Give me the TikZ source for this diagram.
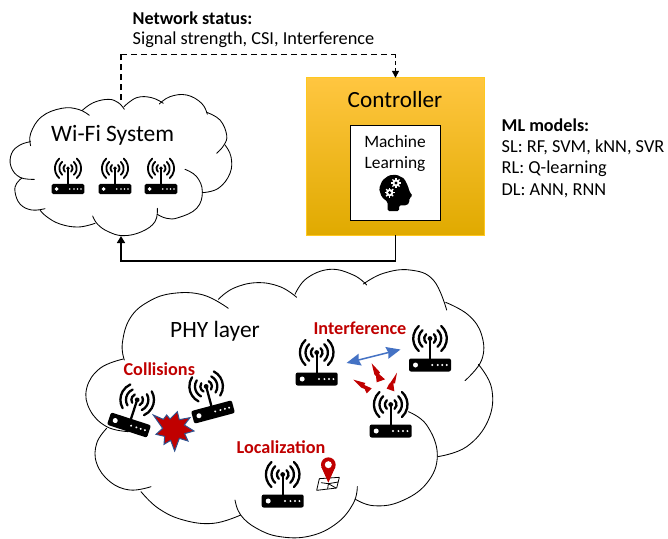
\documentclass[tikz,border=0pt]{standalone}
\usepackage{fontspec}
\setmainfont{Carlito}
\usetikzlibrary{arrows.meta}
\definecolor{dred}{HTML}{C00000}
\definecolor{dblue}{HTML}{4472C4}
\definecolor{sblue}{HTML}{2F528F}
\definecolor{ctop}{HTML}{FFC640}
\definecolor{cmid}{HTML}{FFC000}
\definecolor{cbot}{HTML}{E0AA00}
\definecolor{cedge}{HTML}{FFC81E}
\tikzset{
  lobe/.style={draw=black,line width=0.85pt,line cap=round},
  zoomed/.style={x=0.33333pt,y=-0.33333pt},
  rlabel/.style={text=dred,font=\fontsize{18.2}{20}\selectfont\bfseries,inner sep=0pt},
  infotext/.style={anchor=west,inner sep=0pt,font=\fontsize{18.3}{20}\selectfont},
  infohead/.style={anchor=west,inner sep=0pt,font=\fontsize{18.1}{20}\selectfont\bfseries},
  pics/router/.style={code={
    \begin{scope}[scale=#1,line width=#1*2.3pt,line cap=round]
      \fill[rounded corners=#1*2pt] (-21,-6.5) rectangle (21,6.5);
      \fill[white] (-14.5,0) circle (2.5);
      \foreach \dx in {2.3,7.7,12.3,16.7} {\fill[white] (\dx,0) circle (1.1);}
      \draw (0,-6.5) -- (0,-26.5);
      \fill (0,-26.5) circle (2.4);
      \foreach \r in {5.8,11.2,16.8} {
        \draw ([shift={(-48:\r)}]0,-26.5) arc (-48:48:\r);
        \draw ([shift={(132:\r)}]0,-26.5) arc (132:228:\r);
      }
    \end{scope}
  }}
}
\begin{document}
\begin{tikzpicture}[x=1pt,y=-1pt]
\useasboundingbox (0,0) rectangle (668,538);

% Wi-Fi cloud
\begin{scope}[shift={(0,80)},zoomed]
  \draw[lobe] plot[smooth,tension=.7] coordinates {(92,197) (92,160) (125,110) (185,85) (235,88) (268,106)};
  \draw[lobe] plot[smooth,tension=.7] coordinates {(247,91) (280,68) (325,58) (355,68) (373,88)};
  \draw[lobe] plot[smooth,tension=.7] coordinates {(372,80) (410,53) (455,53) (490,70)};
  \draw[lobe] plot[smooth,tension=.7] coordinates {(478,72) (510,50) (560,45) (605,70) (622,103)};
  \draw[lobe] plot[smooth,tension=.7] coordinates {(620,97) (660,120) (680,165) (672,195) (650,220)};
  \draw[lobe] plot[smooth,tension=.7] coordinates {(675,195) (693,230) (690,280) (655,325) (607,338)};
  \draw[lobe] plot[smooth,tension=.7] coordinates {(555,268) (590,290) (607,335) (590,385) (535,413) (500,415) (472,403)};
  \draw[lobe] plot[smooth,tension=.7] coordinates {(472,385) (465,425) (425,455) (370,467) (325,455) (293,433) (278,408)};
  \draw[lobe] plot[smooth,tension=.7] coordinates {(285,430) (235,441) (180,432) (140,410) (120,390)};
  \draw[lobe] plot[smooth,tension=.7] coordinates {(135,386) (95,390) (60,372) (45,335) (50,310) (65,295)};
  \draw[lobe] plot[smooth,tension=.7] coordinates {(103,298) (60,292) (33,260) (35,220) (60,195) (92,185)};
\end{scope}
\coordinate (wifitop) at (121,100);
\coordinate (wifibot) at (121,236);
\node[inner sep=0pt,font=\fontsize{23.5}{26}\selectfont] (wifilabel) at (112.7,135) {Wi-Fi System};
\pic at (68,189) {router=0.78};
\pic at (115,189) {router=0.78};
\pic at (161,189) {router=0.78};

% Controller
\node[top color=ctop,middle color=cmid,bottom color=cbot,minimum width=177pt,minimum height=157pt,inner sep=0pt] (ctrl) at (395.5,156.5) {};
\draw[cedge,line width=0.8pt] (ctrl.south west) rectangle (ctrl.north east);
\node[inner sep=0pt,font=\fontsize{23.2}{26}\selectfont] (ctrllabel) at (395,99.5) {Controller};
\node[draw=black,fill=white,line width=1pt,minimum width=90pt,minimum height=95pt,inner sep=0pt] (mlbox) at (395,172.5) {};
\node[inner sep=0pt,font=\fontsize{17.4}{20}\selectfont] (ml1) at (395,142) {Machine};
\node[inner sep=0pt,font=\fontsize{17.4}{20}\selectfont] (ml2) at (395,164.5) {Learning};

% head with gears
\begin{scope}[shift={(375,172)},zoomed]
  \fill[rounded corners=1.5pt] (38,117) -- (38,90) -- (20,75) -- (12,50) -- (22,25) -- (42,10) -- (65,8) -- (88,20) -- (100,45) -- (103,58) -- (113,72) -- (103,78) -- (103,92) -- (95,100) -- (72,100) -- (72,117) -- cycle;
  \foreach \cx/\cy in {63/33,44/62} {
    \fill[white] (\cx,\cy) circle (11);
    \foreach \a in {0,45,...,315} {\draw[white,line width=1.3pt] (\cx,\cy) -- ++(\a:15);}
    \fill (\cx,\cy) circle (5);
  }
\end{scope}

% Connectors
\coordinate (dcorner1) at (121,54);
\coordinate (dcorner2) at (ctrl.north |- dcorner1);
\draw[line width=1.5pt,dash pattern=on 6pt off 4pt] (wifitop) -- (dcorner1);
\draw[line width=0.9pt,dash pattern=on 6pt off 4pt] (dcorner1) -- (dcorner2);
\draw[line width=1.2pt,dash pattern=on 4pt off 3pt,-{Triangle[length=7pt,width=7pt]}] (dcorner2) -- (ctrl.north);
\coordinate (scorner1) at (ctrl.south |- 0,261);
\coordinate (scorner2) at (wifibot |- 0,261);
\draw[line width=1.6pt,-{Triangle[length=7pt,width=8pt]}] (ctrl.south) -- (scorner1) -- (scorner2) -- (wifibot);

% Info texts
\node[infohead] (netstat) at (132.5,18.5) {Network status:};
\node[infotext] (netval) at (132.5,39.5) {Signal strength, CSI, Interference};
\node[infohead] (mlhead) at (501.5,125.5) {ML models:};
\node[infotext] (mlsl) at (501.5,147.5) {SL: RF, SVM, kNN, SVR};
\node[infotext] (mlrl) at (501.5,169) {RL: Q-learning};
\node[infotext] (mldl) at (501.5,190.5) {DL: ANN, RNN};

% PHY cloud
\begin{scope}[shift={(80,260)},zoomed]
  \draw[lobe] plot[smooth,tension=.7] coordinates {(133,300) (127,250) (150,175) (205,125) (280,100) (370,105) (445,145)};
  \draw[lobe] plot[smooth,tension=.7] coordinates {(415,118) (460,85) (530,68) (600,80) (650,112)};
  \draw[lobe] plot[smooth,tension=.7] coordinates {(645,103) (680,55) (750,28) (820,45) (860,75)};
  \draw[lobe] plot[smooth,tension=.7] coordinates {(850,72) (910,40) (990,30) (1060,60) (1100,150)};
  \draw[lobe] plot[smooth,tension=.7] coordinates {(1097,127) (1165,165) (1205,225) (1205,300) (1155,362)};
  \draw[lobe] plot[smooth,tension=.7] coordinates {(1195,313) (1235,385) (1225,480) (1160,560) (1073,590)};
  \draw[lobe] plot[smooth,tension=.7] coordinates {(985,455) (1040,495) (1072,585) (1040,670) (960,725) (880,737) (825,717)};
  \draw[lobe] plot[smooth,tension=.7] coordinates {(832,680) (820,730) (770,790) (690,828) (600,830) (530,805) (482,765) (465,720)};
  \draw[lobe] plot[smooth,tension=.7] coordinates {(482,765) (400,790) (310,780) (235,745) (183,695)};
  \draw[lobe] plot[smooth,tension=.7] coordinates {(213,680) (150,690) (90,665) (50,610) (50,550) (80,505)};
  \draw[lobe] plot[smooth,tension=.7] coordinates {(145,515) (80,500) (30,450) (20,385) (60,325) (130,297)};
\end{scope}
\node[inner sep=0pt,font=\fontsize{23.4}{26}\selectfont] (phy) at (215,331.5) {PHY layer};
\node[rlabel] (interf) at (360,328.5) {Interference};
\node[rlabel] (coll) at (159.3,369) {Collisions};
\node[rlabel] (loc) at (281,447) {Localization};

% routers
\pic at (316.7,379) {router=1};
\pic at (430,365) {router=1};
\pic at (390.7,431) {router=1};
\pic at (282.7,501) {router=1};
\pic[rotate=-18] at (129,425) {router=1};
\pic[rotate=15] at (213,412) {router=1};

% collision star
\begin{scope}[shift={(150,405)},zoomed]
  \draw[sblue,fill=dred,line width=1pt,line join=miter]
    (10,30) -- (40,43) -- (50,30) -- (60,42) -- (82,20) -- (88,44) -- (120,38) -- (103,60) -- (132,78) -- (104,86) -- (114,108) -- (88,100) -- (74,138) -- (62,106) -- (42,118) -- (44,94) -- (18,88) -- (38,70) -- cycle;
\end{scope}

% interference bolts and link
\coordinate (linkl) at (346.5,363);
\coordinate (linkr) at (400.5,349.5);
\draw[dblue,line width=1.5pt,{Stealth[length=14pt,width=12pt,inset=1.5pt]}-{Stealth[length=14pt,width=12pt,inset=1.5pt]}] (linkl) -- (linkr);
\begin{scope}[shift={(350,355)},zoomed]
  \fill[dred] (65,25) -- (90,52) -- (87,57) -- (105,73) -- (80,82) -- (78,63) -- (73,58) -- cycle;
  \fill[dred] (10,74) -- (46,84) -- (43,90) -- (65,100) -- (50,115) -- (44,102) -- (34,98) -- cycle;
  \fill[dred] (141,53) -- (135,85) -- (130,85) -- (133,109) -- (110,101) -- (117,87) -- (122,82) -- cycle;
\end{scope}

% map pin
\begin{scope}[shift={(310,452)},zoomed]
  \draw[black,line width=0.8pt,line join=round] (28,80) -- (88,76) -- (80,108) -- (20,115) -- cycle;
  \draw[black,line width=0.8pt] (33,92) -- (55,95) -- (85,90) (55,95) -- (53,111) (55,95) -- (78,108);
  \fill[dred] (34,45) -- (55,92) -- (76,45) -- cycle;
  \fill[dred] (55,38) circle (22);
  \fill[white] (55,38) circle (10.5);
\end{scope}
\end{tikzpicture}
\end{document}
